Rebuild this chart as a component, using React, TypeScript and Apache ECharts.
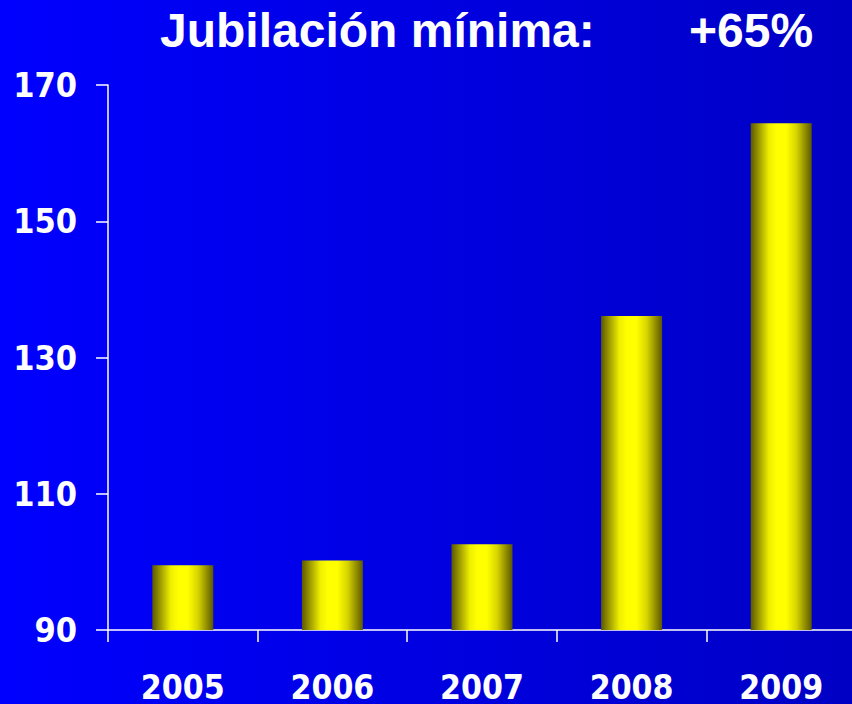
import React, { useEffect, useRef } from "react";
import * as echarts from "echarts";

const categories = ["2005", "2006", "2007", "2008", "2009"];
const values = [99.5, 100.2, 102.6, 136.1, 164.4];
const titleMain = "Jubilación mínima:";
const titleRight = "+65%";
const yMin = 90;
const yMax = 170;
const yStep = 20;

export default function App() {
  const ref = useRef<HTMLDivElement>(null);
  useEffect(() => {
    if (!ref.current) return;
    const chart = echarts.init(ref.current, null, { renderer: "svg" });
    const barGradient = new echarts.graphic.LinearGradient(0, 0, 1, 0, [
      { offset: 0, color: "#5c5800" },
      { offset: 0.3, color: "#eeee00" },
      { offset: 0.42, color: "#ffff00" },
      { offset: 0.58, color: "#ffff00" },
      { offset: 0.75, color: "#d6d400" },
      { offset: 1, color: "#5c5800" },
    ]);
    const labelFont = "'DejaVu Sans Condensed', 'DejaVu Sans', sans-serif";
    chart.setOption({
      animation: false,
      backgroundColor: new echarts.graphic.LinearGradient(0, 0, 1, 0, [
        { offset: 0, color: "#0000ff" },
        { offset: 1, color: "#0000c4" },
      ]),
      title: [
        {
          text: titleMain,
          left: 160,
          top: 6,
          padding: 0,
          textStyle: {
            color: "#ffffff",
            fontFamily: "'Liberation Sans', Arial, sans-serif",
            fontWeight: "bold",
            fontSize: 48,
          },
        },
        {
          text: titleRight,
          left: 689,
          top: 6,
          padding: 0,
          textStyle: {
            color: "#ffffff",
            fontFamily: "'Liberation Sans', Arial, sans-serif",
            fontWeight: "bold",
            fontSize: 48,
          },
        },
      ],
      grid: { left: 108, right: 0, top: 85, bottom: 72, containLabel: false },
      xAxis: {
        type: "category",
        data: categories,
        axisLine: { show: true, lineStyle: { color: "#ffffff", width: 1.5 } },
        axisTick: { show: true, length: 12, lineStyle: { color: "#ffffff", width: 1.5 } },
        axisLabel: {
          color: "#ffffff",
          fontFamily: labelFont,
          fontWeight: "bold",
          fontSize: 33.5,
          margin: 40,
        },
      },
      yAxis: {
        type: "value",
        min: yMin,
        max: yMax,
        interval: yStep,
        splitLine: { show: false },
        axisLine: { show: true, lineStyle: { color: "#ffffff", width: 1.5 } },
        axisTick: { show: true, length: 12, lineStyle: { color: "#ffffff", width: 1.5 } },
        axisLabel: {
          color: "#ffffff",
          fontFamily: labelFont,
          fontWeight: "bold",
          fontSize: 34,
          margin: 31,
        },
      },
      series: [
        {
          type: "bar",
          data: values,
          barWidth: 61,
          itemStyle: { color: barGradient },
        },
      ],
    });
    return () => chart.dispose();
  }, []);
  return (
    <div
      style={{
        position: "fixed",
        left: 0,
        top: 0,
        width: 852,
        height: 704,
        overflow: "hidden",
      }}
    >
      <div ref={ref} style={{ width: 856, height: 704 }} />
    </div>
  );
}
